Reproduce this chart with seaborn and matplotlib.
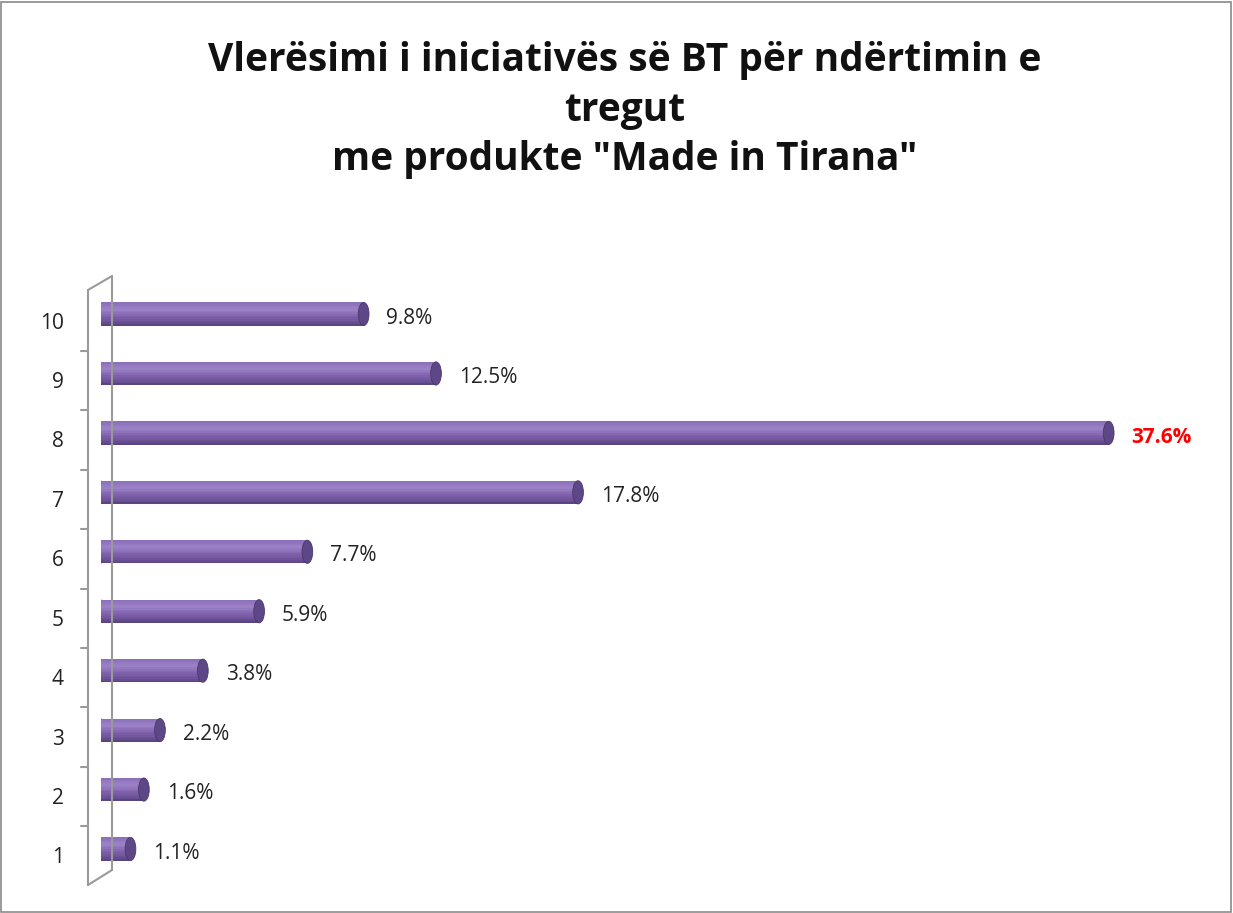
import matplotlib
matplotlib.use("Agg")
import matplotlib.pyplot as plt
import seaborn as sns
import pandas as pd
import numpy as np
from matplotlib.patches import Ellipse, Rectangle
from matplotlib.lines import Line2D
from matplotlib.colors import to_rgb

categories = ["10", "9", "8", "7", "6", "5", "4", "3", "2", "1"]
values = [9.8, 12.5, 37.6, 17.8, 7.7, 5.9, 3.8, 2.2, 1.6, 1.1]
labels = ["9.8%", "12.5%", "37.6%", "17.8%", "7.7%", "5.9%", "3.8%", "2.2%", "1.6%", "1.1%"]
title = 'Vlerësimi i iniciativës së BT për ndërtimin e\ntregut\nme produkte "Made in Tirana"'

sns.set_theme(style="white")
plt.rcParams['font.family'] = ['Open Sans', 'DejaVu Sans']

W, H = 1233, 913
fig = plt.figure(figsize=(W / 100, H / 100), dpi=100)
X0 = 101
ax = fig.add_axes([X0 / W, 1 - 878.7 / H, (1200 - X0) / W, 594.4 / H])

df = pd.DataFrame({"cat": categories, "val": values})
sns.barplot(data=df, y="cat", x="val", order=categories, orient="h",
            color="#7e62a8", saturation=1, width=0.39, ax=ax,
            edgecolor="none", linewidth=0)
ax.set_xlim(0, (1200 - X0) / 26.8)
ax.set_ylim(9.5, -0.5)
ax.axis("off")

# cylinder shading profile (top -> bottom)
stops = [(0.0, "#8a6db8"), (0.3, "#9c83c8"), (0.6, "#8062ac"), (0.85, "#6a5096"), (1.0, "#55417a")]
def shade(t):
    for (t0, c0), (t1, c1) in zip(stops[:-1], stops[1:]):
        if t0 <= t <= t1:
            f = (t - t0) / (t1 - t0)
            a, b = np.array(to_rgb(c0)), np.array(to_rgb(c1))
            return tuple(a + (b - a) * f)
    return to_rgb(stops[-1][1])

nb = 14
cap_w = 0.40
for p, v, lab in zip(ax.patches, values, labels):
    y0 = p.get_y()
    h = p.get_height()
    w = p.get_width()
    # left rounded end
    ax.add_patch(Ellipse((0, y0 + h / 2), cap_w, h, facecolor="#785ca6",
                         edgecolor="none", zorder=2))
    for k in range(nb):
        t = (k + 0.5) / nb
        ax.add_patch(Rectangle((0, y0 + h * k / nb), w, h / nb + 0.002,
                               facecolor=shade(t), edgecolor="none", zorder=3))
    ax.add_patch(Ellipse((w, y0 + h / 2), cap_w, h, facecolor="#5e4786",
                         edgecolor="#4a3869", linewidth=0.6, zorder=4))
    red = lab == "37.6%"
    ax.text(w + 0.85, y0 + h / 2 + 0.07, lab, va="center", ha="left",
            fontsize=15,
            color="#ff0000" if red else "#222222",
            fontweight="bold" if red else "normal")

# 3D wall decoration (pixel coordinates)
def px(x, y):
    return x / W, 1 - y / H

gray = "#9a9a9a"
for (x1, y1), (x2, y2) in [((112, 276), (112, 870)), ((88, 290), (88, 885)),
                           ((88, 290), (112, 276)), ((88, 885), (112, 870))]:
    a, b = px(x1, y1), px(x2, y2)
    fig.add_artist(Line2D([a[0], b[0]], [a[1], b[1]], color=gray, lw=1.5,
                          transform=fig.transFigure))

# category labels and ticks from category positions
for i, c in enumerate(categories):
    ydisp = ax.transData.transform((0, i))[1]
    fig.text(64 / W, (ydisp - 9) / H, c, ha="right", va="center",
             fontsize=15, color="#222222")
for i in range(len(categories) + 1):
    yb = ax.transData.transform((0, i - 0.5))[1]
    yb_px = H - yb + 7
    if 295 <= yb_px <= 880:
        a, b = px(81, yb_px), px(88, yb_px)
        fig.add_artist(Line2D([a[0], b[0]], [a[1], b[1]], color=gray, lw=1.5,
                              transform=fig.transFigure))

fig.text(625 / W, 1 - 110 / H, title, ha="center", va="center", fontsize=28,
         fontweight="bold", family=["Open Sans", "DejaVu Sans"], linespacing=1.36,
         color="#111111")

fig.add_artist(Rectangle((1 / W, 1 / H), 1 - 3 / W, 1 - 3 / H, fill=False,
                         edgecolor="#8a8a8a", lw=1.2, transform=fig.transFigure))

fig.savefig("out.png", dpi=100, facecolor="white")
